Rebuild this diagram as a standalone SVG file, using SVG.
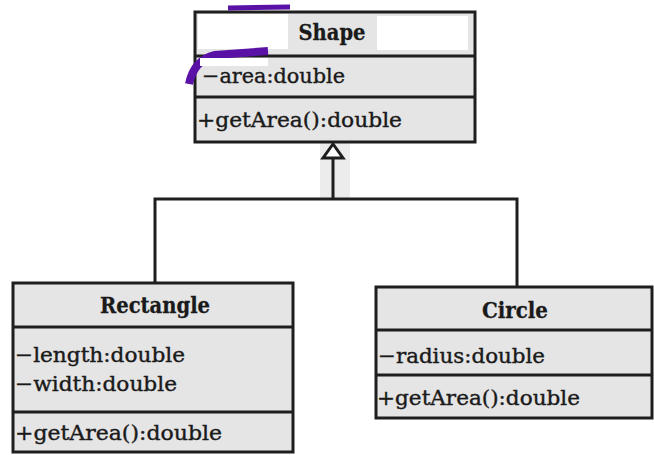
<svg xmlns="http://www.w3.org/2000/svg" width="654" height="455" viewBox="0 0 654 455">
<style>
.box{fill:#e5e5e5;stroke:#1e1e1e;stroke-width:3}
.div{stroke:#1e1e1e;stroke-width:3}
.t{font-family:"DejaVu Serif","Liberation Serif",serif;font-size:21px;fill:#1a1a1a;stroke:#1a1a1a;stroke-width:0.4}
.b{font-weight:bold;text-anchor:middle;font-size:22px;stroke-width:0.3}
.con{fill:none;stroke:#1e1e1e;stroke-width:3}
</style>
<rect width="654" height="455" fill="#ffffff"/>
<rect x="320" y="140" width="30" height="58" fill="#ececec"/>
<g id="shape">
<rect class="box" x="195" y="12" width="280" height="130"/>
<line class="div" x1="195" y1="56" x2="475" y2="56"/>
<line class="div" x1="195" y1="97" x2="475" y2="97"/>
<rect x="198" y="14" width="90" height="35" fill="#ffffff"/>
<rect x="377" y="16" width="91" height="34" fill="#ffffff"/>
<path d="M228 8 L290 7" stroke="#5a12a6" stroke-width="5" fill="none"/>
<path d="M189 84 Q194 60 215 55 L268 51" stroke="#5a12a6" stroke-width="8" fill="none"/>
<rect x="200" y="58" width="68" height="8" fill="#ffffff"/>
<text class="t b" x="332" y="40" textLength="67" lengthAdjust="spacingAndGlyphs">Shape</text>
<text class="t" x="202" y="83" textLength="143" lengthAdjust="spacingAndGlyphs">−area:double</text>
<text class="t" x="197" y="127" textLength="205" lengthAdjust="spacingAndGlyphs">+getArea():double</text>
</g>
<g id="rectangle">
<rect class="box" x="13" y="283" width="280" height="169"/>
<line class="div" x1="13" y1="327" x2="293" y2="327"/>
<line class="div" x1="13" y1="412" x2="293" y2="412"/>
<text class="t b" x="155" y="313" textLength="110" lengthAdjust="spacingAndGlyphs">Rectangle</text>
<text class="t" x="15" y="362" textLength="170" lengthAdjust="spacingAndGlyphs">−length:double</text>
<text class="t" x="15" y="391" textLength="162" lengthAdjust="spacingAndGlyphs">−width:double</text>
<text class="t" x="15" y="440" textLength="207" lengthAdjust="spacingAndGlyphs">+getArea():double</text>
</g>
<g id="circle">
<rect class="box" x="376" y="287" width="276" height="131"/>
<line class="div" x1="376" y1="330" x2="652" y2="330"/>
<line class="div" x1="376" y1="375" x2="652" y2="375"/>
<text class="t b" x="515" y="318" textLength="66" lengthAdjust="spacingAndGlyphs">Circle</text>
<text class="t" x="378" y="363" textLength="167" lengthAdjust="spacingAndGlyphs">−radius:double</text>
<text class="t" x="377" y="405" textLength="203" lengthAdjust="spacingAndGlyphs">+getArea():double</text>
</g>
<g id="connectors">
<path class="con" d="M333 158 L333 199 M155 283 L155 199 L517 199 L517 287"/>
<polygon points="333,144 323,158 343,158" fill="#ffffff" stroke="#1e1e1e" stroke-width="3"/>
</g>
</svg>
